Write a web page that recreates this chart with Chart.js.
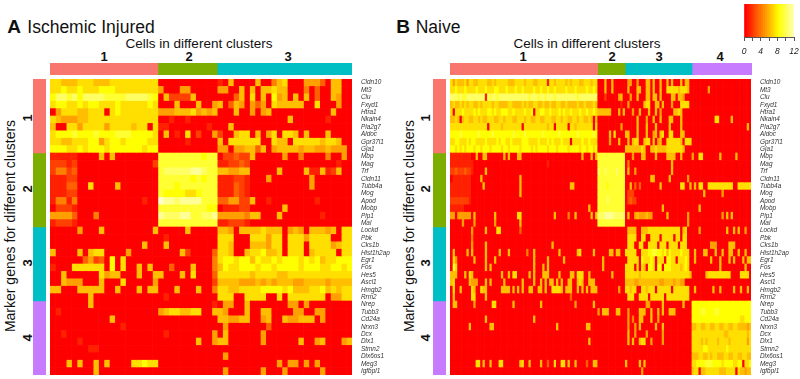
<!DOCTYPE html>
<html>
<head>
<meta charset="utf-8">
<script src="https://cdn.jsdelivr.net/npm/chart.js@4/dist/chart.umd.min.js"></script>
<style>
  html, body { margin: 0; padding: 0; background: #fff; }
  body { position: relative; width: 800px; height: 379px; overflow: hidden; font-family: "Liberation Sans", Arial, sans-serif; color: #111; }
  canvas { position: absolute; display: block; }
  .t { position: absolute; white-space: nowrap; transform: translate(-50%, -50%); }
  .letter { font-size: 19px; font-weight: bold; }
  .title { font-size: 17.5px; }
  .axis { font-size: 13.5px; }
  .num { font-size: 13px; font-weight: bold; }
  .rot { transform: translate(-50%, -50%) rotate(-90deg); }
</style>
</head>
<body>
<div class="t letter" style="left:14px;top:27px">A</div>
<div class="t title" style="left:91px;top:27px">Ischemic Injured</div>
<div class="t axis" style="left:199px;top:43px">Cells in different clusters</div>
<div class="t num" style="left:104px;top:56px">1</div>
<div class="t num" style="left:189px;top:56px">2</div>
<div class="t num" style="left:288px;top:56px">3</div>
<div class="t axis rot" style="left:10px;top:226px;font-size:14px">Marker genes for different clusters</div>
<div class="t num rot" style="left:27px;top:118px">1</div>
<div class="t num rot" style="left:27px;top:189px">2</div>
<div class="t num rot" style="left:27px;top:263px">3</div>
<div class="t num rot" style="left:27px;top:338px">4</div>

<div class="t letter" style="left:403px;top:27px">B</div>
<div class="t title" style="left:438px;top:27px">Naive</div>
<div class="t axis" style="left:587px;top:43px">Cells in different clusters</div>
<div class="t num" style="left:523px;top:56px">1</div>
<div class="t num" style="left:612px;top:56px">2</div>
<div class="t num" style="left:659px;top:56px">3</div>
<div class="t num" style="left:720px;top:56px">4</div>
<div class="t axis rot" style="left:409px;top:226px;font-size:14px">Marker genes for different clusters</div>
<div class="t num rot" style="left:425px;top:118px">1</div>
<div class="t num rot" style="left:425px;top:189px">2</div>
<div class="t num rot" style="left:425px;top:263px">3</div>
<div class="t num rot" style="left:425px;top:338px">4</div>

<canvas id="heatA" width="350" height="296" style="left:50px;top:79px"></canvas>
<canvas id="heatB" width="349" height="296" style="left:449.5px;top:79px"></canvas>
<canvas id="topA" width="302" height="12" style="left:50px;top:63px"></canvas>
<canvas id="topB" width="302" height="12" style="left:449.5px;top:63px"></canvas>
<canvas id="sideA" width="13" height="296" style="left:33px;top:79px"></canvas>
<canvas id="sideB" width="13" height="296" style="left:432.5px;top:79px"></canvas>
<canvas id="key" width="65" height="57" style="left:735px;top:4px"></canvas>

<script>
var genes = ["Cldn10","Mt3","Clu","Fxyd1","Htra1","Nkain4","Pla2g7","Aldoc","Gpr37l1","Gja1",
  "Mbp","Mag","Trf","Cldn11","Tubb4a","Mog","Apod","Mobp","Plp1","Mal",
  "Lockd","Pbk","Cks1b","Hist1h2ap","Egr1","Fos","Hes5","Ascl1","Hmgb2","Rrm2",
  "Nrep","Tubb3","Cd24a","Nrxn3","Dcx","Dlx1","Stmn2","Dlx6os1","Meg3","Igfbpl1"];
var clusterColors = ["#F8766D","#7CAE00","#00BFC4","#C77CFF"];
var cellsPerClusterA = [20, 11, 25];
var cellsPerClusterB = [64, 12, 29, 26];
var genesPerCluster = [10, 10, 10, 10];
var keyLevels = [0,0.5,1,1.5,2,2.5,3,3.5,4,4.5,5,5.5,6,6.5,7,7.5,8,8.5,9,9.5,10,10.5,11,11.5];
var keyTicks = [0,4,8,12];

// one string per gene, one character per cell, value 0-12 written in base 13 (a=10, b=11, c=12)
var heatRowsA = [
"77666777666777777777 00000000000 1060000600 4670005553 06600",
"77877877788877777777 50005500000 5500606066 7660004030 06600",
"8aa9a8aaaa9999aaaa98 06222260000 0003607060 8560606030 06500",
"78877878877787777787 00060006005 6036505350 7666660070 00500",
"05777667770787777777 55566675656 0006005056 0000000000 06000",
"76555667777777777777 00100100000 0000000000 0006000000 10000",
"60077577775777767707 11000000010 0060000000 0000000000 00000",
"78889888988899988887 06010702005 2006770605 7077606000 60000",
"77667778857887888877 00000100000 6077777700 7660777776 77600",
"88877878887888888788 00000000000 5505566360 5666656655 65550",
"11111000060600000000 99999999899 0223226000 0050040000 40050",
"22212000000000000002 99999999999 1122320000 0000000000 00100",
"24423000000000000000 9aaaaabba99 6655660000 0600006116 12600",
"11122000000000000000 99999989899 1112210005 0000000500 00000",
"11133007000060000000 99989999999 1113210000 0000000500 00000",
"11122000000000000000 98888778999 1113210000 0000000000 00000",
"14414000000000000100 cbbabbbb999 3355226001 0000000010 00000",
"02221000000000000000 99999999988 0111220000 0060000000 00000",
"55553000400000000000 baaabb99aab 5555546600 0600000001 00000",
"12221000000000000000 99999999999 1122210000 0000000000 00000",
"00000500060000000006 00000600000 6650666676 6605650666 56077",
"00000000000000000000 01000000000 7770007775 7707775777 70077",
"00000000000000000600 06000000000 7760006665 7707770777 75677",
"60000606770000500000 00006200003 7760067786 6707770677 77077",
"00000035230807000000 00000000004 7887886877 8788878786 77888",
"10007777770807006060 00300060004 6877888788 7888878887 78878",
"00600000075660006006 60006070003 7777776777 7667777777 77777",
"00655500060007000005 00000000002 6666555656 5666556666 56666",
"66000666660060006066 00060006004 7766777788 8878666778 67677",
"00000006000000000000 01000000000 7770077770 0707777777 05577",
"00000006000000000000 00000000001 0550060000 0005505000 00000",
"01000000000000000000 56776677006 6500060066 0000550055 00000",
"00000000000600000000 00000000000 6655660056 0065566605 00000",
"00000000000001000000 00000000000 0500000003 0000000000 00000",
"00100000000000000000 01000000005 0600000050 0000000000 00000",
"00000100000000000000 00000006005 6600000050 0000060056 00056",
"00000001100000000000 00000000000 0000000000 0000000000 00000",
"00000000000000000000 00000000000 0500000000 0000000000 00000",
"00060600606000077877 00000000000 0000000000 0505505050 00000",
"00000000600000000000 00000000000 0500000050 0050000005 00000"
];

var heatRowsB = [
"7576667577 6677776676 7777766677 7767776677 7717767777 6767776677 7677 000600600000 0550050006 6060060060 600060660 0000000000 0000000000 000000",
"7787778777 7877787778 8777877787 7877778778 7787787777 8777877778 7787 000600600000 0600066006 6060060077 777677760 0000000500 0000000000 000000",
"aaa9a99aaa aaaaa1a9aa 9aaaaaaaaa aaaa9aaa9a a9aaa9aaaa aaaaa9aaaa aaaa 000200000560 0050060006 6066060000 660665000 0000000000 0000000000 000000",
"6766767677 6676777767 7666677666 6767667766 7667667766 7666676676 6676 000000000010 0500000067 7006606000 500077770 0000000000 0000000000 000000",
"7077787777 8787778878 7788877877 7787780778 8778777878 7787778778 7787 666666000606 0005006000 6006050000 066760000 0000000000 0000000000 000000",
"6676067766 7767667776 6776777667 7767766776 6777667767 7667767766 7606 000000000000 0000060005 0060060006 600060000 0000000000 7700000600 000000",
"7777777777 7777770777 7767777777 7077777777 7767707777 7077677777 7707 000000000050 0000060006 0006000006 000060000 0000000000 0000000000 000060",
"8888988888 8898888898 8888888988 8898888888 9888888988 8888898888 8898 000006070000 6600060006 0056067007 700066000 0000000000 0000000000 000000",
"7788777878 8777787777 8788778777 7888777787 7787877787 7707777877 8777 000005000600 0606770067 7060560077 777760777 0000000000 0000000000 000000",
"8878787888 7887888788 8878878888 7888878788 8878887888 8788887887 8878 000000000000 6666666760 0667666677 777776000 0000000000 0000000000 000000",
"1111111110 0600660000 0006060006 6000000000 0000000000 0000000600 0606 999999999999 0005000660 0006000066 660060000 5007700000 0060000006 000000",
"1111111111 0000000000 0000000000 0000000000 0010000000 0000000000 0000 999999999999 0400000000 0000000000 600000000 0000000000 0000000000 000000",
"2232223221 0000060000 0000000000 0000000000 0000000000 0000000000 0000 a99a9999a999 0600500000 0000000000 600000000 0000000000 0000000000 000000",
"0111111110 0006000000 0000000000 6000000000 0000000000 0000000000 0000 999999999999 0000000000 0660000006 000000050 0000000000 0000000000 000000",
"1111111110 0000600000 0000000000 6000000000 0000000000 0066000000 0000 999989999999 0060303000 0000060000 000077006 0607700777 7777777700 777777",
"1111111110 0000000000 0000000000 6000000000 0000000000 0000000000 0000 999999999999 0222000000 0000000000 000000000 0000060000 0005000000 000000",
"2222222210 0000000000 0000000000 0000000000 0000000000 0000000000 0000 9999a9999999 0232200000 0000000000 000000000 0000000000 0000000000 000000",
"1111110000 0000000000 0000000000 0000000000 0000000000 0000000000 6000 999999999999 0000000000 0000006000 000000000 0006000000 0000000000 000000",
"5505555550 6000000006 0000000007 7000000000 0000060000 0400600000 0606 aaabbbbaaaaa 0600565556 5500000060 000000050 0000000000 0005060600 000000",
"0000050000 5000000005 0000000000 6000000000 0000000000 0000000000 0000 999999999999 0000000000 0000000000 000000050 0000000000 0000000000 000000",
"0000000005 0000060000 7700000000 3000000000 0000000000 0000000000 0000 000000000000 0666600666 7777777777 777706700 0005000000 0000060060 600500",
"0000000004 0000000000 0000000000 0000000000 0000000000 0000000000 0000 000000000000 0777700770 0777707777 707707700 0000000000 0000000000 000000",
"0000000005 0000060000 0000000000 0000000000 0000600000 0000000000 0000 000000000000 0777007700 7777077707 777077700 0000000055 5000006660 000000",
"0600000606 0000060000 0600060000 0004006000 0000000600 0000067000 0060 000006606600 7777700777 8899887868 777787770 0600066000 6006006600 600600",
"0750000000 6000060006 0000000000 0000006000 0060000006 0000000000 0000 006000000000 0777770877 7870777088 770777870 0600000060 0060006060 006066",
"0970000000 0000060600 0000000000 0000006000 6060000000 0000000000 0000 006000000000 7777070760 8870880888 777767870 0000000000 0060000000 000600",
"6660006076 0000000000 0060060770 0000606000 6660000600 0066077700 6000 000000600000 7777776777 7777777777 777777776 0000006777 7777777000 077770",
"6700000065 5500060600 0006000000 0600006006 0606606060 0660067600 6660 000000000000 6666556666 6666655666 656655000 0000000000 0000000000 000000",
"0700600007 6007660000 0066660606 0600660066 0600777760 6660060606 0666 000000000500 7767700776 7770777777 077777770 0600000006 0060000060 060060",
"0600000007 7000060000 0000000000 0000000000 0000000000 0030000000 0000 000000000000 0777007777 0777777077 777777770 0000000000 0000000000 000000",
"0660000000 5000000077 0000000600 0000000006 0000000000 0000500000 0060 000000000000 0000000005 5000006000 000006000 8888888888 8888888888 888888",
"0000000000 0000000000 0000000000 0000000000 0000000000 0000000000 0000 506660006600 0500006660 0600606006 660000000 8888998888 9988888888 888888",
"0000000000 0000060000 0000000000 0000006000 0000000000 0000000000 0000 000000000000 0504006600 0600500000 000000000 8888888888 8888888888 877888",
"0000000060 0000000660 0000000000 0000000000 0000006000 0000000006 6000 000000000000 0500506000 0006006000 000000000 6677667766 7766776677 666656",
"0000000000 0000000000 0000000000 0000000000 0000000000 0000000000 0000 000000000000 0600500005 0000005000 000000000 7777777777 7777667777 777767",
"0000000000 0000000000 0000000000 0000000000 0000000000 0000000000 6000 000000000000 0606006770 0500005000 000000000 7777676777 7677776777 777757",
"0000000000 0000000000 0000000000 0000000000 0000000000 0000000000 0000 000000000000 0000000000 0000000000 000000000 7777788777 7777787777 777777",
"0000000000 0000000000 0000000000 0000000000 0000000000 0000000000 0000 000000000000 0000000000 0000000000 000000000 6667766767 7666776677 667766",
"0000000000 0770600600 0770000000 6700600006 0030070077 0600600003 0066 000000000000 6000006060 0000000000 000000000 7788889998 8887888877 880778",
"0000000000 0000000000 0000000000 0000000000 0000000000 0000000000 0000 000000000000 0000000500 0000000000 000000000 6770667777 7766677770 766566"
];

// red -> yellow up to 8, then fading towards pale yellow at 12
function heatColor(v) {
  if (v <= 8) return "rgb(255," + Math.round(255 * v / 8) + ",0)";
  return "rgb(255,255," + Math.round((v - 8) / 4 * 200) + ")";
}

function parseRows(rows) {
  return rows.map(function(r) {
    return r.replace(/\s/g, "").split("").map(function(ch) { return parseInt(ch, 13); });
  });
}

function sum(list) {
  return list.reduce(function(a, b) { return a + b; }, 0);
}

function drawHeatmap(id, rows, nCols) {
  var values = parseRows(rows);
  var datasets = [];
  for (let c = 0; c < nCols; c++) {
    datasets.push({
      data: genes.map(function() { return [c, c + 1]; }),
      backgroundColor: values.map(function(row) { return heatColor(row[c] || 0); }),
      borderWidth: 0,
      barPercentage: 1,
      categoryPercentage: 1,
      grouped: false
    });
  }
  new Chart(document.getElementById(id), {
    type: "bar",
    data: { labels: genes, datasets: datasets },
    options: {
      indexAxis: "y",
      responsive: false,
      animation: false,
      events: [],
      layout: { padding: 0, autoPadding: false },
      plugins: { legend: { display: false }, tooltip: { enabled: false } },
      scales: {
        x: { type: "linear", min: 0, max: nCols, display: false },
        y: {
          position: "right",
          grid: { display: false, drawTicks: false },
          border: { display: false },
          afterFit: function(scale) {
            scale.width = 48;
            scale.paddingTop = 0;
            scale.paddingBottom = 0;
          },
          ticks: {
            autoSkip: false,
            padding: 9,
            color: "#333",
            font: { family: "Liberation Sans", size: 6.4, style: "italic" }
          }
        }
      }
    }
  });
}

function drawClusterBar(id, sizes, vertical) {
  var datasets = sizes.map(function(n, i) {
    return {
      data: [n],
      backgroundColor: clusterColors[i],
      borderWidth: 0,
      barPercentage: 1,
      categoryPercentage: 1
    };
  });
  new Chart(document.getElementById(id), {
    type: "bar",
    data: { labels: ["clusters"], datasets: datasets },
    options: {
      indexAxis: vertical ? "x" : "y",
      responsive: false,
      animation: false,
      events: [],
      layout: { padding: 0 },
      plugins: { legend: { display: false }, tooltip: { enabled: false } },
      scales: {
        x: vertical ? { stacked: true, display: false } : { stacked: true, display: false, min: 0, max: sum(sizes) },
        y: vertical ? { stacked: true, display: false, reverse: true, min: 0, max: sum(sizes) } : { stacked: true, display: false }
      }
    }
  });
}

function drawKey() {
  var datasets = keyLevels.map(function(v) {
    return {
      data: [[v, v + 0.5]],
      backgroundColor: heatColor(v),
      borderWidth: 0,
      barPercentage: 1,
      categoryPercentage: 1,
      grouped: false
    };
  });
  new Chart(document.getElementById("key"), {
    type: "bar",
    data: { labels: ["key"], datasets: datasets },
    options: {
      indexAxis: "y",
      responsive: false,
      animation: false,
      events: [],
      layout: { padding: { left: 9, right: 6, top: 0, bottom: 0 } },
      plugins: { legend: { display: false }, tooltip: { enabled: false } },
      scales: {
        y: { display: false },
        x: {
          type: "linear",
          min: 0,
          max: 12,
          afterFit: function(scale) { scale.height = 24; scale.paddingLeft = 0; scale.paddingRight = 0; },
          grid: { drawOnChartArea: false, tickLength: 4, color: "#555" },
          border: { color: "#555" },
          ticks: {
            stepSize: 2,
            maxRotation: 0,
            autoSkip: false,
            padding: 6,
            color: "#222",
            font: { family: "Liberation Sans", size: 8.5, style: "italic" },
            callback: function(v) { return keyTicks.indexOf(v) >= 0 ? v : ""; }
          }
        }
      }
    }
  });
}

drawHeatmap("heatA", heatRowsA, sum(cellsPerClusterA));
drawHeatmap("heatB", heatRowsB, sum(cellsPerClusterB));
drawClusterBar("topA", cellsPerClusterA, false);
drawClusterBar("topB", cellsPerClusterB, false);
drawClusterBar("sideA", genesPerCluster, true);
drawClusterBar("sideB", genesPerCluster, true);
drawKey();
</script>
</body>
</html>
